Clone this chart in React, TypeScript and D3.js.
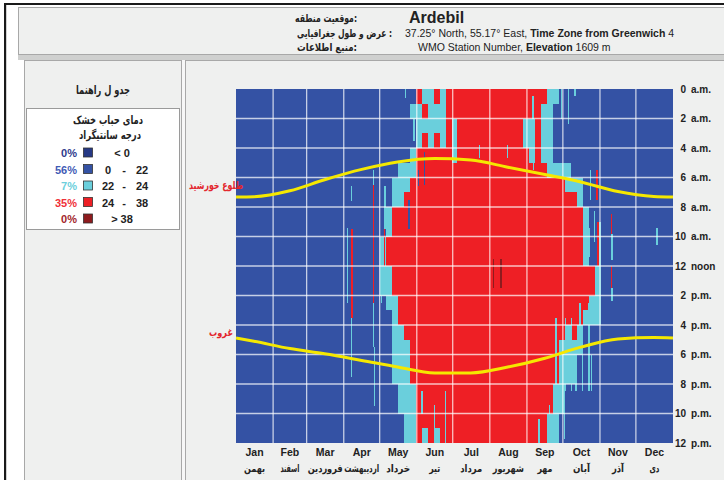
import React, { useLayoutEffect, useRef, useState } from 'react';
import * as d3 from 'd3';

// ---------- data ----------
const MONTHS = ['Jan', 'Feb', 'Mar', 'Apr', 'May', 'Jun', 'Jul', 'Aug', 'Sep', 'Oct', 'Nov', 'Dec'];
const MONTHS_FA = ['بهمن', 'اسفند', 'فروردین', 'اردیبهشت', 'خرداد', 'تیر', 'مرداد', 'شهریور', 'مهر', 'آبان', 'آذر', 'دی'];
const MONTH_START_DAYS = [0, 31, 59, 90, 120, 151, 181, 212, 243, 273, 304, 334, 365];
const HOUR_TICKS = [0, 2, 4, 6, 8, 10, 12, 14, 16, 18, 20, 22, 24];
const HOUR_NUM = ['0', '2', '4', '6', '8', '10', '12', '2', '4', '6', '8', '10', '12'];
const HOUR_SUFFIX = ['a.m.', 'a.m.', 'a.m.', 'a.m.', 'a.m.', 'a.m.', 'noon', 'p.m.', 'p.m.', 'p.m.', 'p.m.', 'p.m.', 'p.m.'];

// dry bulb category per hour (rows) and per 5-day period (columns)
// b: 0-22, c: 22-24, r: 24-38, d: > 38   (spaces only group 10 periods)
const BIN_DAYS = 5;
const HOURLY_ROWS = [
  'bbbbbbbbbb bbbbbbbbbb bbbbbbbbbb rccrcrrrrr rrrrrrrrrr rrccbbbbbb bbbbbbbbbb bbb', // 0
  'bbbbbbbbbb bbbbbbbbbb bbbbbbbbbc crcccrrrrr rrrrrrrrrr rccbbbbbbb bbbbbbbbbb bbb', // 1
  'bbbbbbbbbb bbbbbbbbbb bbbbbbbbbb cccccrcrrr rrrrrrrrcc rccbbbbbbb bbbbbbbbbb bbb', // 2
  'bbbbbbbbbb bbbbbbbbbb bbbbbbbbbb crcrcrcrrr rrrrrrrrcc rccbbbbbbb bbbbbbbbbb bbb', // 3
  'bbbbbbbbbb bbbbbbbbbb bbbbbbbbbc rrrrrrcrrr rrrrrrrrrc rccbbbbbbb bbbbbbbbbb bbb', // 4
  'bbbbbbbbbb bbbbbbbbbb bbbbbbbccc rrrrrrrrrr rrrrrrrrrr rrccccbbbb bbbbbbbbbb bbb', // 5
  'bbbbbbbbbb bbbbbbbbbb bbbbbbcccr rrrrrrrrrr rrrrrrrrrr rrrrrcccbb bbbbbbbbbb bbb', // 6
  'bbbbbbbbbb bbbbbbbbbb bbbbbbccrr rrrrrrrrrr rrrrrrrrrr rrrrrrrcbb bbbbbbbbbb bbb', // 7
  'bbbbbbbbbb bbbbbbbbbb bbbbbcrrrr rrrrrrrrrr rrrrrrrrrr rrrrrrrrcb bbbbbbbbbb bbb', // 8
  'bbbbbbbbbb bbbbbbbbbb bbbbbcrrrr rrrrrrrrrr rrrrrrrrrr rrrrrrrrcb bbbbbbbbbb bbb', // 9
  'bbbbbbbbbb bbbbbbbbbb bbbbcrrrrr rrrrrrrrrr rrrrrrrrrr rrrrrrrrcb bbbbbbbbbb bbb', // 10
  'bbbbbbbbbb bbbbbbbbbb bbbbcrrrrr rrrrrrrrrr rrrrrrrrrr rrrrrrrrcb bbbbbbbbbb bbb', // 11
  'bbbbbbbbbb bbbbbbbbbb bbbbccrrrr rrrrrrrrrr rrrrrrrrrr rrrrrrrrrr cbbbbbbbbb bbb', // 12
  'bbbbbbbbbb bbbbbbbbbb bbbbccrrrr rrrrrrrrrr rrrrrrrrrr rrrrrrrrrr cbbbbbbbbb bbb', // 13
  'bbbbbbbbbb bbbbbbbbbb bbbbbccrrr rrrrrrrrrr rrrrrrrrrr rrrrrrrrrc cbbbbbbbbb bbb', // 14
  'bbbbbbbbbb bbbbbbbbbb bbbbbbcrrr rrrrrrrrrr rrrrrrrrrr rrrrrrrrcc cbbbbbbbbb bbb', // 15
  'bbbbbbbbbb bbbbbbbbbb bbbbbbccrr rrrrrrrrrr rrrrrrrrrr rrrrrcrcbb bbbbbbbbbb bbb', // 16
  'bbbbbbbbbb bbbbbbbbbb bbbbbbcccr rrrrrrrrrr rrrrrrrrrr rrrrccccbb bbbbbbbbbb bbb', // 17
  'bbbbbbbbbb bbbbbbbbbb bbbbbbcccr rrrrrrrrrr rrrrrrrrrr rrrrcccbbb bbbbbbbbbb bbb', // 18
  'bbbbbbbbbb bbbbbbbbbb bbbbbbcccr rrrrrrrrrr rrrrrrrrrr rrrrcccbbb bbbbbbbbbb bbb', // 19
  'bbbbbbbbbb bbbbbbbbbb bbbbbbbccc rrrrrrrrrr rrrrrrrrrr rrrccbbbbb bbbbbbbbbb bbb', // 20
  'bbbbbbbbbb bbbbbbbbbb bbbbbbbccc rrrrrrrrrr rrrrrrrrrr rrrccbbbbb bbbbbbbbbb bbb', // 21
  'bbbbbbbbbb bbbbbbbbbb bbbbbbbbcc rrrrrrrrrr rrrrrrrrrr rrccbbbbbb bbbbbbbbbb bbb', // 22
  'bbbbbbbbbb bbbbbbbbbb bbbbbbbbcc rcrcrrrrrr rrrrrrrrrr rrccbbbbbb bbbbbbbbbb bbb', // 23
];

// thin single-day streaks: [day, fromHour, toHour, category]
const STREAKS: [number, number, number, string][] = [
  [93, 9.4, 14.5, 'c'], [96.5, 6.6, 7.6, 'c'], [97, 9.5, 15.5, 'r'], [96.5, 15.5, 19.5, 'c'],
  [115, 5.5, 6.5, 'c'], [115, 6.5, 14.5, 'r'], [115, 14.5, 17.5, 'c'], [115.5, 17.5, 21.5, 'c'],
  [121.5, 10.5, 14.5, 'c'], [124, 9.5, 12, 'r'], [124.5, 6.6, 9.5, 'c'],
  [141.5, 0, 0.6, 'c'], [148.5, 2, 3.5, 'c'],
  [152.5, 5.5, 6.6, 'b'], [157.5, 4.3, 6.5, 'b'], [144.5, 7.5, 9.5, 'b'],
  [155.5, 20.5, 22, 'c'], [166, 21.4, 24, 'c'], [175, 20.5, 24, 'c'],
  [203.6, 3.8, 4.7, 'c'], [226.7, 3.8, 4.7, 'c'], [215, 11.5, 13.5, 'd'], [221.4, 11.5, 13.5, 'd'],
  [248, 0.5, 2.4, 'c'], [248.5, 3.5, 5.5, 'c'], [253, 22.4, 24, 'c'], [262, 21.4, 24, 'c'],
  [267.4, 15.5, 20.5, 'c'], [271.8, 0, 2, 'c'], [274.4, 20.5, 23.7, 'c'], [275, 15.5, 20.5, 'c'],
  [277.5, 0, 2.4, 'c'], [280.2, 15.5, 20.5, 'c'], [283, 0, 0.5, 'c'], [284, 18.5, 20.5, 'c'],
  [287.4, 14.5, 16, 'c'], [289.5, 16.4, 20.5, 'c'], [294.7, 9.4, 11.4, 'c'], [295, 14.5, 20.5, 'c'],
  [296, 5.5, 7.5, 'c'], [297, 18, 20.5, 'c'], [299.3, 8.3, 10.4, 'c'], [301.2, 13.3, 15.5, 'c'],
  [301.5, 5.5, 7.5, 'r'], [302.5, 9, 12, 'r'], [304, 9, 12, 'c'], [313.6, 8.5, 9.8, 'r'],
  [314, 9.8, 11.6, 'c'], [313.6, 12, 13.5, 'r'], [314, 13.5, 14.4, 'c'], [351.7, 9.4, 10.6, 'c'],
];

// sunrise / sunset (hour of day)
const SUN_DAYS = [0, 15, 45, 74, 105, 135, 166, 196, 227, 258, 288, 319, 349, 365];
const SUNRISE = [7.32, 7.3, 6.9, 6.15, 5.45, 4.95, 4.72, 4.82, 5.3, 5.8, 6.3, 6.95, 7.28, 7.32];
const SUNSET = [16.88, 17.1, 17.6, 17.95, 18.4, 18.85, 19.25, 19.25, 18.85, 18.25, 17.5, 16.95, 16.85, 16.88];

const LEGEND_PCT = ['0%', '56%', '7%', '35%', '0%'];
const LEGEND_CAT = ['n', 'b', 'c', 'r', 'd'];
const LEGEND_LOW = ['< 0', '0', '22', '24', '> 38'];
const LEGEND_HIGH = ['', '22', '24', '38', ''];

// ---------- styles ----------
const COLORS: Record<string, string> = {
  n: '#263985',
  b: '#3452a4',
  c: '#6acfdc',
  r: '#ee1f25',
  d: '#8e1b1e',
};
const PCT_COLORS = ['#2e3a8c', '#3f5bb5', '#6ccfdc', '#ef3038', '#a3262b'];
const FONT = "Arial, 'Liberation Sans', 'DejaVu Sans', sans-serif";
const FA_FONT = "'DejaVu Sans', sans-serif";
const PANEL = '#eff0ef';
// rendered widths of the Persian month names (style, matches the reference's compact font)
const FA_MONTH_WIDTH = [21, 19, 35, 35, 24, 11, 22, 31, 15, 17, 12, 10];

type FaProps = {
  x: number;
  y: number;
  text: string;
  width: number;
  anchor: 'start' | 'middle' | 'end';
  fill?: string;
  size?: number;
};

// Persian text squeezed horizontally to the width it has in the reference
function FaText({ x, y, text, width, anchor, fill = '#222', size = 11 }: FaProps) {
  const ref = useRef<SVGTextElement>(null);
  const [sx, setSx] = useState(0.78);
  useLayoutEffect(() => {
    if (ref.current) {
      const w = ref.current.getComputedTextLength();
      if (w > 0) setSx(width / w);
    }
  }, [text, width, size]);
  return (
    <text
      ref={ref}
      transform={`translate(${x},${y}) scale(${sx},1)`}
      textAnchor={anchor}
      fontFamily={FA_FONT}
      fontSize={size}
      fontWeight="bold"
      fill={fill}
    >
      {text}
    </text>
  );
}

export default function App() {
  const x = d3.scaleLinear().domain([0, 365]).range([236, 673]);
  const y = d3.scaleLinear().domain([0, 24]).range([89, 443]);

  const cells: React.ReactNode[] = [];
  HOURLY_ROWS.forEach((row, h) => {
    const s = row.replace(/ /g, '');
    for (let b = 0; b < s.length; b++) {
      const ch = s[b];
      if (ch === 'b') continue;
      const x0 = x(b * BIN_DAYS);
      const x1 = x(Math.min(365, (b + 1) * BIN_DAYS));
      cells.push(
        <rect key={`c${h}-${b}`} x={x0} y={y(h)} width={x1 - x0} height={y(h + 1) - y(h)} fill={COLORS[ch]} />
      );
    }
  });

  const streaks = STREAKS.map(([d, h0, h1, cat], i) => (
    <rect key={`s${i}`} x={x(d - 0.6)} y={y(h0)} width={x(1.2) - x(0)} height={y(h1) - y(h0)} fill={COLORS[cat]} />
  ));

  const line = d3
    .line<number>()
    .x((_, i) => x(SUN_DAYS[i]))
    .y((d) => y(d))
    .curve(d3.curveMonotoneX);

  const legendRowY = (i: number) => 153 + i * 16.5;

  return (
    <svg
      width={724}
      height={480}
      style={{ position: 'absolute', left: 0, top: 0, background: '#ffffff' }}
      fontFamily={FONT}
    >
      {/* outer frame */}
      <rect x={0} y={0} width={724} height={480} fill="#ffffff" />
      <rect x={4} y={3} width={720} height={2} fill="#1a1a1a" />
      <rect x={4} y={3} width={2.2} height={477} fill="#1a1a1a" />

      {/* header panel */}
      <rect x={18.5} y={7.5} width={706} height={47} fill={PANEL} stroke="#a8a8a8" />
      <rect x={18} y={55} width={706} height={5} fill="#cfd0cf" />
      <FaText x={357} y={22} text="موقعیت منطقه:" width={62} anchor="end" />
      <FaText x={392} y={37} text="عرض و طول جغرافیایی :" width={95} anchor="end" />
      <FaText x={357} y={51} text="منبع اطلاعات:" width={60} anchor="end" />
      <g fill="#222" fontSize={11}>
        <text x={409} y={23} fontSize={16} fontWeight="bold">Ardebil</text>
        <text x={405} y={37} fontSize={10.5}>
          37.25° North, 55.17° East, <tspan fontWeight="bold">Time Zone from Greenwich</tspan> 4
        </text>
        <text x={418} y={51} fontSize={10.5}>
          WMO Station Number, <tspan fontWeight="bold">Elevation</tspan> 1609 m
        </text>
      </g>

      {/* left panel */}
      <rect x={24.5} y={60.5} width={157} height={430} fill={PANEL} stroke="#a8a8a8" />
      <rect x={182} y={60} width={3} height={420} fill="#f7f7f7" />
      <FaText x={103} y={94} text="جدو ل راهنما" width={54} anchor="middle" size={12} />
      <rect x={26.5} y={108.5} width={153} height={121} fill="#ffffff" stroke="#9a9a9a" />
      <FaText x={108} y={124} text="دمای حباب خشک" width={70} anchor="middle" size={11.5} />
      <FaText x={110} y={139} text="درجه سانتیگراد" width={62} anchor="middle" size={11.5} />
      {LEGEND_PCT.map((p, i) => {
        const cy = legendRowY(i);
        return (
          <g key={`lg${i}`} fontSize={11} fontWeight="bold">
            <text x={77} y={cy + 4} textAnchor="end" fill={PCT_COLORS[i]}>{p}</text>
            <rect x={83.5} y={cy - 5} width={9} height={9} fill={COLORS[LEGEND_CAT[i]]} stroke="#333" strokeWidth={0.8} />
            {LEGEND_HIGH[i] === '' ? (
              <text x={122} y={cy + 4} textAnchor="middle" fill="#222">{LEGEND_LOW[i]}</text>
            ) : (
              <>
                <text x={108} y={cy + 4} textAnchor="middle" fill="#222">{LEGEND_LOW[i]}</text>
                <text x={124} y={cy + 4} textAnchor="middle" fill="#222">-</text>
                <text x={142} y={cy + 4} textAnchor="middle" fill="#222">{LEGEND_HIGH[i]}</text>
              </>
            )}
          </g>
        );
      })}

      {/* chart panel */}
      <rect x={185.5} y={60.5} width={540} height={430} fill={PANEL} stroke="#a8a8a8" />

      {/* heat map */}
      <g shapeRendering="crispEdges">
        <rect x={x(0)} y={y(0)} width={x(365) - x(0)} height={y(24) - y(0)} fill={COLORS.b} />
        {cells}
        {streaks}
      </g>

      {/* grid */}
      <g stroke="#ffffff" strokeOpacity={0.72} strokeWidth={1.3}>
        {MONTH_START_DAYS.slice(1, 12).map((d) => (
          <line key={`vg${d}`} x1={x(d)} x2={x(d)} y1={y(0)} y2={y(24)} />
        ))}
        {HOUR_TICKS.slice(1, 12).map((h) => (
          <line key={`hg${h}`} x1={x(0)} x2={x(365)} y1={y(h)} y2={y(h)} />
        ))}
      </g>

      {/* sunrise / sunset */}
      <path d={line(SUNRISE) || ''} fill="none" stroke="#f5e800" strokeWidth={3} />
      <path d={line(SUNSET) || ''} fill="none" stroke="#f5e800" strokeWidth={3} />
      <FaText x={243} y={189} text="طلوع خورشید" width={54} anchor="end" fill="#e3262d" />
      <FaText x={233} y={336} text="غروب" width={24} anchor="end" fill="#e3262d" />

      {/* hour axis */}
      <g fontSize={10} fontWeight="bold" fill="#222">
        {HOUR_TICKS.map((h, i) => (
          <g key={`ht${h}`}>
            <text x={686} y={y(h) + 3.5} textAnchor="end">{HOUR_NUM[i]}</text>
            <text x={691} y={y(h) + 3.5}>{HOUR_SUFFIX[i]}</text>
          </g>
        ))}
      </g>

      {/* month axis */}
      <g fontSize={10.5} fontWeight="bold" fill="#222" textAnchor="middle">
        {MONTHS.map((m, i) => {
          const cx = x((MONTH_START_DAYS[i] + MONTH_START_DAYS[i + 1]) / 2);
          return (
            <g key={`m${m}`}>
              <text x={cx} y={456}>{m}</text>
              <FaText x={cx} y={472} text={MONTHS_FA[i]} width={FA_MONTH_WIDTH[i]} anchor="middle" size={10.5} />
            </g>
          );
        })}
      </g>
    </svg>
  );
}
